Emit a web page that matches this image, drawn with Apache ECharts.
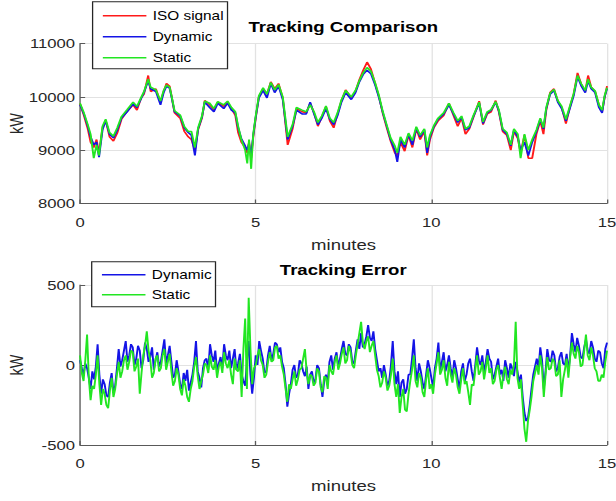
<!DOCTYPE html>
<html>
<head>
<meta charset="utf-8">
<script src="https://cdn.jsdelivr.net/npm/echarts@6/dist/echarts.min.js"></script>
<style>
  html, body { margin: 0; padding: 0; background: #fff; overflow: hidden; }
  /* the source figure is stretched horizontally, so draw narrow and stretch */
  #chart { width: 481px; height: 501px; transform: scaleX(1.28067); transform-origin: 0 0; }
</style>
</head>
<body>
<div id="chart"></div>
<script>
// top plot: ISO signal and the two tracked outputs (kW) over time (minutes)
const cmpMinutes = [
  0, 0.11, 0.22, 0.30, 0.39, 0.47, 0.54, 0.64, 0.73, 0.84,
  0.95, 1.06, 1.18, 1.34, 1.51, 1.62, 1.74, 1.82, 1.94, 2.01,
  2.16, 2.29, 2.38, 2.46, 2.55, 2.61, 2.69, 2.85, 2.97, 3.08,
  3.17, 3.27, 3.36, 3.47, 3.55, 3.69, 3.81, 3.92, 4.09, 4.20,
  4.31, 4.42, 4.50, 4.59, 4.70, 4.76, 4.81, 4.87, 4.93, 5.00,
  5.09, 5.21, 5.32, 5.43, 5.54, 5.65, 5.77, 5.91, 6.05, 6.16,
  6.32, 6.44, 6.55, 6.66, 6.77, 6.88, 7.00, 7.11, 7.22, 7.33,
  7.44, 7.56, 7.72, 7.84, 7.95, 8.06, 8.17, 8.28, 8.40, 8.51,
  8.62, 8.73, 8.84, 8.96, 9.03, 9.12, 9.24, 9.35, 9.46, 9.57,
  9.68, 9.80, 9.88, 9.96, 10.07, 10.19, 10.35, 10.50, 10.63, 10.75,
  10.86, 10.97, 11.08, 11.19, 11.36, 11.47, 11.59, 11.70, 11.83, 11.92,
  12.03, 12.15, 12.26, 12.35, 12.46, 12.54, 12.65, 12.76, 12.87, 12.99,
  13.10, 13.19, 13.27, 13.38, 13.49, 13.60, 13.71, 13.83, 13.94, 14.05,
  14.16, 14.27, 14.38, 14.46, 14.55, 14.66, 14.77, 14.86, 14.93, 15.00
];
const isoSignal = [
  9870, 9650, 9400, 9150, 9050, 9200, 8950, 9420, 9560, 9250,
  9170, 9320, 9580, 9730, 9850, 9750, 9980, 10050, 10400, 10100,
  10150, 9900, 10100, 10250, 10200, 10000, 9700, 9600, 9350, 9250,
  9200, 9000, 9380, 9600, 9930, 9850, 9760, 9900, 9820, 9900,
  9780, 9650, 9330, 9150, 9050, 8950, 9150, 8850, 9250, 9600,
  10000, 10150, 10050, 10280, 10150, 10250, 9980, 9100, 9400, 9780,
  9720, 9700, 9880, 9700, 9450, 9620, 9820, 9550, 9420, 9680,
  9930, 10130, 9980, 10100, 10320, 10500, 10650, 10520, 10250, 10000,
  9680, 9420, 9170, 8950, 8900, 9150, 8980, 9280, 9050, 9400,
  9200, 9350, 8900, 9200, 9420, 9550, 9650, 9880, 9650, 9450,
  9600, 9300, 9400, 9600, 9920, 9480, 9680, 9720, 9930, 9720,
  9350, 9280, 9000, 9350, 9220, 8950, 9280, 8850, 8850, 9300,
  9550, 9300, 9750, 10080, 10150, 9920, 9800, 9500, 9800, 10050,
  10450, 10230, 10100, 10400, 10180, 10100, 9850, 9720, 9980, 10200
];
const dynamicTrack = [
  9850, 9680, 9450, 9250, 9100, 9150, 8870, 9380, 9550, 9300,
  9230, 9380, 9600, 9720, 9870, 9800, 9970, 10080, 10300, 10150,
  10100, 9850, 10080, 10200, 10160, 9980, 9720, 9640, 9420, 9330,
  9280, 8900, 9400, 9620, 9900, 9800, 9720, 9880, 9780, 9880,
  9750, 9700, 9420, 9220, 9080, 9000, 9120, 8900, 9280, 9620,
  9980, 10120, 9980, 10250, 10080, 10200, 9950, 9200, 9450, 9750,
  9680, 9680, 9900, 9680, 9480, 9600, 9780, 9580, 9480, 9650,
  9900, 10080, 9950, 10080, 10280, 10420, 10500, 10430, 10220, 9980,
  9700, 9450, 9200, 9000, 8780, 9200, 9050, 9300, 9100, 9420,
  9250, 9380, 8950, 9250, 9440, 9580, 9680, 9850, 9680, 9520,
  9620, 9380, 9420, 9620, 9880, 9500, 9700, 9750, 9900, 9740,
  9380, 9300, 9080, 9380, 9250, 9000, 9150, 8900, 9150, 9350,
  9580, 9400, 9780, 10050, 10120, 9900, 9780, 9550, 9780, 10020,
  10380, 10200, 10080, 10300, 10150, 10080, 9800, 9700, 10000, 10150
];
const staticTrack = [
  9880, 9700, 9480, 9300, 8850, 9100, 8900, 9450, 9580, 9330,
  9260, 9420, 9630, 9760, 9900, 9820, 9990, 10100, 10330, 10180,
  10130, 9920, 10120, 10220, 10180, 10000, 9740, 9660, 9440, 9350,
  9350, 9050, 9420, 9640, 9920, 9880, 9780, 9910, 9850, 9920,
  9800, 9720, 9450, 9200, 9000, 8750, 9200, 8650, 9300, 9640,
  10020, 10170, 10050, 10270, 10130, 10230, 10000, 9250, 9480, 9800,
  9750, 9720, 9850, 9720, 9520, 9640, 9830, 9600, 9520, 9700,
  9940, 10120, 10000, 10120, 10300, 10450, 10550, 10480, 10260, 10020,
  9720, 9470, 9230, 9080, 8950, 9250, 9100, 9320, 9180, 9440,
  9280, 9400, 9050, 9280, 9460, 9600, 9700, 9880, 9700, 9550,
  9640, 9400, 9450, 9640, 9900, 9530, 9720, 9760, 9910, 9760,
  9400, 9330, 9100, 9400, 9300, 8850, 9300, 9000, 9200, 9380,
  9600, 9420, 9800, 10070, 10140, 9930, 9820, 9580, 9820, 10060,
  10400, 10240, 10120, 10330, 10180, 10110, 9850, 9750, 10020, 10170
];

// bottom plot: tracking error (kW), one sample every 0.05 minute (one row per minute)
const dynamicErr = [
  30, -20, -60, 10, -20, -80, -150, -40, -90, -10, 130, -60, -180, -90, -120, -190, -200, -110, -50, -170,
  -130, -20, 100, -10, 30, 90, 150, 20, 60, 130, 110, 0, 40, 120, 90, -20, 30, 140, 100, 20,
  50, 110, -30, 30, 80, -10, 20, 90, 160, 10, 60, 120, 20, -80, -60, 30, -40, -120, -150, -50,
  -100, -30, -160, -110, -60, 20, 150, -40, -80, -140, -20, 30, 40, -30, 130, 60, 20, 90, -40, 10,
  50, -20, 130, 60, 30, 90, -20, 40, 100, -30, 10, 70, -60, -100, -130, 20, 150, -60, -180, -80,
  60, 0, 150, 90, 40, -50, -40, 60, 120, 30, 70, 140, 130, 80, 110, 20, -20, -120, -260, -180,
  -120, -30, 0, -80, -60, 30, 10, -40, -70, -10, -150, -60, -40, -110, -90, 0, -20, -120, -200, -100,
  -60, -110, 20, 60, -30, 40, 80, -10, 40, 100, 150, 70, 60, 130, 110, 20, 10, 90, 160, 100,
  200, 110, 130, 180, 250, 170, 150, 210, 100, 30, -40, -20, -80, 0, -60, -130, -100, 0, 150, -40,
  -120, -40, -200, -110, -90, -180, -150, -60, -60, 40, 160, -20, -100, 10, -40, -110, -150, -60, 30, -20,
  -80, -140, -20, 40, 140, -30, 20, 80, -40, 0, 60, -20, -80, 30, -20, -90, -150, -40, 10, -100,
  -60, 10, 40, -40, -100, 0, 110, 30, 0, 60, -50, 20, 100, 40, 20, -90, -60, -10, 40, -60,
  -30, -100, 30, -20, -80, 10, -20, -70, 20, -40, -110, -60, -200, -300, -350, -330, -250, -150, -60, -10,
  40, -20, 110, 30, -150, -40, 100, 30, 20, 90, 60, -40, -20, 50, 80, 10, 0, 70, -40, 60,
  200, 130, 80, 170, 120, 50, 40, 110, 160, 90, 70, 150, 110, 40, 20, 90, 80, 10, -20, 100,
  140
];
const staticErr = [
  60, -50, -100, 30, 190, -80, -220, -130, -150, -60, 60, -120, -250, -150, -180, -250, -270, -160, -80, -200,
  -150, -60, 20, -80, -40, 30, 60, -30, 20, 90, 80, -40, -10, 40, -180, -50, 60, 120, 210, 90,
  30, -80, -50, 40, 60, -40, -20, 60, 100, -30, 20, 70, -40, -130, -100, -20, -60, -150, -190, -90,
  -130, -200, -230, -150, -100, -10, 50, -70, -150, -100, -60, 10, 0, -50, 60, -10, -30, 30, -80, -10,
  20, -50, 80, 10, -20, 30, -60, -120, 40, -30, -40, 30, -200, 100, 290, -150, 420, 100, -120, -20,
  0, 60, 100, 30, 0, -80, -60, 20, 80, 20, 30, 110, 120, 40, 60, -10, -60, -150, -230, -120,
  -150, -90, -40, -130, -90, -30, -20, 40, 100, -40, -120, -60, -70, -130, -110, -20, -40, -140, -170, -70,
  -80, -150, 0, -40, -60, 20, 60, -30, 10, 70, 110, 10, 30, 120, 80, 0, -20, 60, 130, 200,
  270, 140, 100, 150, 180, 80, 120, 150, 60, -30, -70, -140, -110, -40, -80, -160, -130, -60, 40, -120,
  -200, -120, -300, -200, -150, -280, -290, -180, -100, -30, 60, -100, -140, -50, -80, -170, -200, -90, -20, -150,
  -120, -180, -60, 10, 80, -60, -30, 30, -80, -130, 20, -60, -110, -20, -60, -140, -180, -90, -20, -120,
  -100, -170, -250, -120, -130, -30, 60, -60, -40, 20, -90, -20, 60, -50, -20, -120, -100, -30, 0, -80,
  -150, -60, -10, -90, -120, -30, -60, 0, 270, -80, -150, -90, -250, -400, -480, -350, -280, -200, -100, -50,
  0, -60, 60, -20, -200, -60, 50, -30, -20, 40, 20, -70, -60, 30, -200, -90, -30, 40, -80, 50,
  140, 70, 40, 120, 80, -10, 0, 90, 190, 60, 30, 110, 60, -20, -40, -100, -100, -60, -80, 20,
  90
];
const errMinutes = dynamicErr.map((_, i) => i / 20);

const xTicks = { min: 0, max: 15, interval: 5 };
const cmpTicks = { min: 8000, max: 11000, interval: 1000 };
const errTicks = { min: -500, max: 500, interval: 500 };

const RED = "#ff1a1a";
const BLUE = "#1414e6";
const GREEN = "#22e622";
const AXIS = "#595959";
const TEXT = "#262626";
const GRIDLINE = "#e2e2e2";

const pairs = (xs, ys) => ys.map((v, i) => [xs[i], v]);

const xAxisFor = (gridIndex) => ({
  type: "value",
  gridIndex: gridIndex,
  ...xTicks,
  name: "minutes",
  nameLocation: "middle",
  nameGap: 34,
  nameMoveOverlap: false,
  nameTextStyle: { fontSize: 14.5, color: TEXT },
  axisLine: { show: true, onZero: false, lineStyle: { color: AXIS } },
  axisTick: { inside: true, length: 4, lineStyle: { color: AXIS } },
  axisLabel: { fontSize: 13, color: TEXT, margin: 12 },
  splitLine: { show: true, lineStyle: { color: GRIDLINE } },
});

const yAxisFor = (gridIndex, ticks) => ({
  type: "value",
  gridIndex: gridIndex,
  ...ticks,
  name: "kW",
  nameLocation: "middle",
  nameGap: 42,
  nameMoveOverlap: false,
  nameTextStyle: { fontSize: 14.5, color: TEXT },
  axisLine: { show: true, lineStyle: { color: AXIS } },
  axisTick: { show: true, inside: true, length: 4, lineStyle: { color: AXIS } },
  axisLabel: { fontSize: 13, color: TEXT, margin: 4, formatter: (v) => String(v) },
  splitLine: { show: true, lineStyle: { color: GRIDLINE } },
});

const lineSeries = (name, color, xIndex, data) => ({
  name: name,
  type: "line",
  xAxisIndex: xIndex,
  yAxisIndex: xIndex,
  symbol: "none",
  data: data,
  lineStyle: { color: color, width: 1.5 },
  itemStyle: { color: color },
});

const legendBox = {
  orient: "vertical",
  selectedMode: false,
  backgroundColor: "#fff",
  borderColor: "#262626",
  borderWidth: 1,
  icon: "rect",
  itemWidth: 34,
  itemHeight: 1.5,
  textStyle: { fontSize: 12, color: "#000", lineHeight: 14 },
};

const chart = echarts.init(document.getElementById("chart"), null, { renderer: "svg" });

chart.setOption({
  animation: false,
  textStyle: { fontFamily: "Liberation Sans, Arial, sans-serif" },
  title: [
    {
      text: "Tracking Comparison",
      left: 268, top: 20, textAlign: "center", padding: 0,
      textStyle: { fontSize: 14.5, fontWeight: "bold", color: "#000" },
    },
    {
      text: "Tracking Error",
      left: 268, top: 263, textAlign: "center", padding: 0,
      textStyle: { fontSize: 14.5, fontWeight: "bold", color: "#000" },
    },
  ],
  legend: [
    { ...legendBox, data: ["ISO signal", "Dynamic", "Static"], left: 72.3, top: 1.7, itemGap: 7, padding: [7, 3, 4, 8] },
    { ...legendBox, data: ["Dynamic", "Static"], left: 71.6, top: 261.7, itemGap: 6, padding: [6, 3, 5, 8] },
  ],
  grid: [
    { left: 62.5, right: 7, top: 43.5, height: 160, containLabel: false, outerBoundsMode: "none" },
    { left: 62.5, right: 7, top: 285, height: 160, containLabel: false, outerBoundsMode: "none" },
  ],
  xAxis: [xAxisFor(0), xAxisFor(1)],
  yAxis: [yAxisFor(0, cmpTicks), yAxisFor(1, errTicks)],
  series: [
    lineSeries("ISO signal", RED, 0, pairs(cmpMinutes, isoSignal)),
    lineSeries("Dynamic", BLUE, 0, pairs(cmpMinutes, dynamicTrack)),
    lineSeries("Static", GREEN, 0, pairs(cmpMinutes, staticTrack)),
    lineSeries("Dynamic", BLUE, 1, pairs(errMinutes, dynamicErr)),
    lineSeries("Static", GREEN, 1, pairs(errMinutes, staticErr)),
  ],
});
</script>
</body>
</html>
